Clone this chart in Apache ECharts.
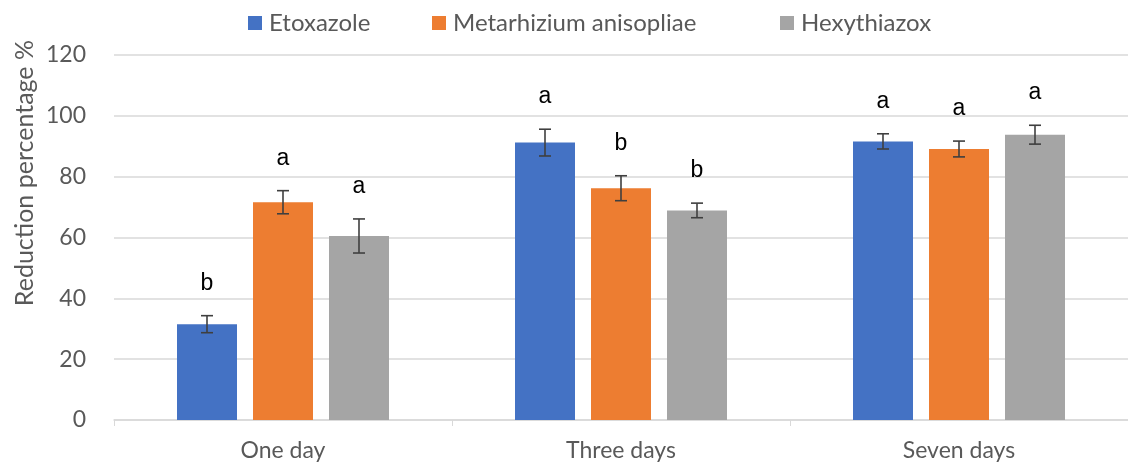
<!DOCTYPE html>
<html><head><meta charset="utf-8">
<script src="https://cdn.jsdelivr.net/npm/echarts@6/dist/echarts.min.js"></script>
<style>html,body{margin:0;padding:0;background:#fff}#c{width:1128px;height:468px}</style>
</head><body><div id="c"></div>
<script>
const categories = ["One day", "Three days", "Seven days"];
const seriesNames = ["Etoxazole", "Metarhizium anisopliae", "Hexythiazox"];
const etoxazole = [31.5, 91.2, 91.6];
const metarhizium = [71.6, 76.2, 89.1];
const hexythiazox = [60.5, 68.9, 93.8];
const etoxazoleErr = [2.8, 4.4, 2.5];
const metarhiziumErr = [3.8, 4.1, 2.6];
const hexythiazoxErr = [5.6, 2.4, 3.1];
const etoxazoleLetters = ["b", "a", "a"];
const metarhiziumLetters = ["a", "b", "a"];
const hexythiazoxLetters = ["a", "b", "a"];
const yTicks = [0, 20, 40, 60, 80, 100, 120];

const colors = ["#4472C4", "#ED7D31", "#A5A5A5"];
const values = [etoxazole, metarhizium, hexythiazox];
const errs = [etoxazoleErr, metarhiziumErr, hexythiazoxErr];
const letters = [etoxazoleLetters, metarhiziumLetters, hexythiazoxLetters];
const legendLefts = [243, 427, 775];
const BAR_W = 60, GAP = 16;
const FONT = "Lato, 'Open Sans', sans-serif";

const series = [];
values.forEach((vals, i) => {
  series.push({
    name: seriesNames[i], type: 'bar', data: vals, barWidth: BAR_W, barGap: (GAP / BAR_W * 100) + '%',
    itemStyle: { color: colors[i] }, emphasis: { disabled: true }
  });
});
values.forEach((vals, i) => {
  series.push({
    type: 'custom', name: seriesNames[i] + ' err', silent: true, z: 10,
    data: vals.map((v, k) => [k, v, errs[i][k]]),
    renderItem: function (params, api) {
      const k = api.value(0), v = api.value(1), e = api.value(2);
      const lt = letters[i][k];
      const off = (i - 1) * (BAR_W + GAP);
      const top = api.coord([k, v + e]);
      const bot = api.coord([k, v - e]);
      const x = top[0] + off;
      const cap = 6;
      const st = { stroke: '#3f3f3f', lineWidth: 1.6 };
      return {
        type: 'group', children: [
          { type: 'line', shape: { x1: x, y1: top[1], x2: x, y2: bot[1] }, style: st },
          { type: 'line', shape: { x1: x - cap, y1: top[1], x2: x + cap, y2: top[1] }, style: st },
          { type: 'line', shape: { x1: x - cap, y1: bot[1], x2: x + cap, y2: bot[1] }, style: st },
          { type: 'text', style: { x: x, y: top[1] - 21, text: lt, fill: '#000', font: "23px 'Liberation Sans', Arial, sans-serif", textAlign: 'center', textVerticalAlign: 'bottom' } }
        ]
      };
    }
  });
});

const legends = seriesNames.map((n, i) => ({
  data: [n], top: 6, left: legendLefts[i], itemWidth: 14, itemHeight: 14,
  icon: 'rect', selectedMode: false,
  textStyle: { color: '#595959', fontSize: 24, fontFamily: FONT, padding: [0, 0, 0, 2] }
}));

const chart = echarts.init(document.getElementById('c'), null, { renderer: 'canvas' });
chart.setOption({
  animation: false,
  backgroundColor: '#fff',
  legend: legends,
  graphic: [{
    type: 'text', left: 12, top: 40, rotation: Math.PI / 2,
    style: { text: 'Reduction percentage %', fill: '#595959', font: "25px Lato, 'Open Sans', sans-serif" }
  }],
  grid: { left: 114, top: 55, width: 1023, height: 365 },
  xAxis: {
    type: 'category', data: categories,
    axisLine: { lineStyle: { color: '#d9d9d9', width: 1.5 } },
    axisTick: { show: true, length: 6, lineStyle: { color: '#d9d9d9' } },
    axisLabel: { color: '#595959', fontSize: 23, fontFamily: FONT, margin: 19 }
  },
  yAxis: {
    type: 'value', min: 0, max: 120, interval: 20,
    axisLine: { show: false }, axisTick: { show: false },
    splitLine: { lineStyle: { color: '#d9d9d9', width: 1.5 } },
    axisLabel: { color: '#595959', fontSize: 23, fontFamily: FONT, margin: 28,
      formatter: v => yTicks.includes(v) ? String(v) : '' }
  },
  series: series
});
</script></body></html>
